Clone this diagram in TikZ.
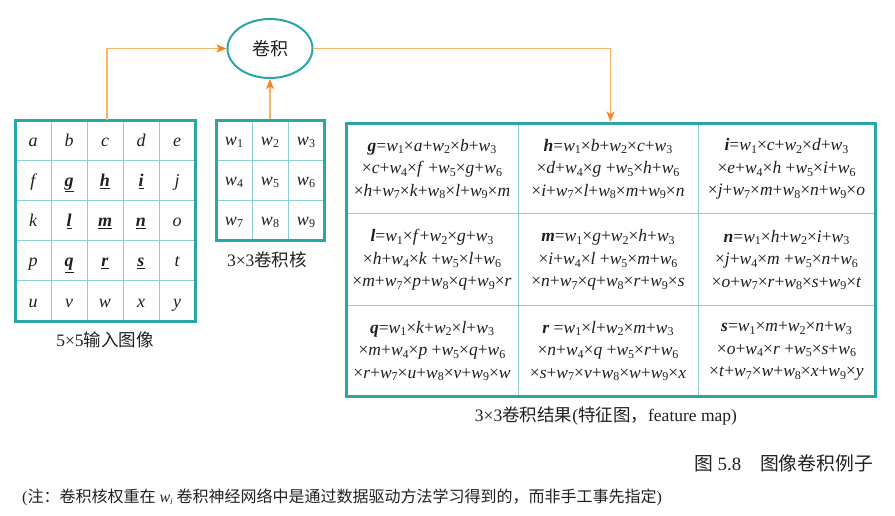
\documentclass[tikz,border=0pt]{standalone}
\usepackage{fontspec}
\setmainfont{Liberation Serif}
\newfontfamily\cjk{Noto Sans CJK SC}
\usetikzlibrary{arrows.meta,shapes.geometric}
\definecolor{tealA}{HTML}{2AA6A6}
\definecolor{tealB}{HTML}{8DD0D0}
\definecolor{orgL}{HTML}{FBB26A}
\definecolor{orgD}{HTML}{F5841C}
\definecolor{ink}{HTML}{231F20}
\newcommand\sbs[1]{\raisebox{-0.35ex}{\fontsize{12}{12}\selectfont\upshape #1}}
\newcommand\wk[1]{\textit{w}\sbs{#1}}
\newcommand\bu[1]{\underline{\textbf{\textit{#1}}}}
\newcommand\bv[1]{\textbf{\textit{#1}}}
\newcommand\xx{\texttimes}
\tikzset{
  gridbox/.style={draw=tealA, line width=3pt, inner sep=0pt},
  inner/.style={draw=tealB, line width=1pt},
  cell/.style={text=ink, font=\fontsize{18}{18}\selectfont\itshape, inner sep=0pt, anchor=base},
  ocell/.style={text=ink, align=center, font=\fontsize{17.5}{22.5}\selectfont, inner sep=0pt},
  lbl/.style={text=ink, inner sep=0pt},
  arr/.style={draw=orgL, line width=1.4pt, -{Stealth[length=10pt,width=8pt,inset=2.5pt,color=orgD]}},
}
\begin{document}
\begin{tikzpicture}[x=1pt,y=-1pt]
\useasboundingbox (0,0) rectangle (895,515);
% ellipse
\node[draw=tealA, line width=2pt, ellipse, minimum width=85pt, minimum height=59pt, inner sep=0pt, text=ink, font=\fontsize{18}{18}\selectfont\cjk] (conv) at (270,48.5) {卷积};
% input grid
\foreach \x in {51,87,123,159} \draw[inner] (\x,120) -- (\x,321);
\foreach \y in {160.2,200.4,240.6,280.8} \draw[inner] (15,\y) -- (195,\y);
\node[gridbox, minimum width=180pt, minimum height=201pt] (inputb) at (105,220.5) {};
\coordinate (instart) at (107,120);
\foreach \t [count=\i from 0] in {a,b,c,d,e} \node[cell] (in0\i) at (33+36*\i,146) {\t};
\node[cell] (in10) at (33,186.4) {f};
\node[cell] (in11) at (69,186.4) {\bu{g}};
\node[cell] (in12) at (105,186.4) {\bu{h}};
\node[cell] (in13) at (141,186.4) {\bu{i}};
\node[cell] (in14) at (177,186.4) {j};
\node[cell] (in20) at (33,226.5) {k};
\node[cell] (in21) at (69,226.5) {\bu{l}};
\node[cell] (in22) at (105,226.5) {\bu{m}};
\node[cell] (in23) at (141,226.5) {\bu{n}};
\node[cell] (in24) at (177,226.5) {o};
\node[cell] (in30) at (33,266.7) {p};
\node[cell] (in31) at (69,266.7) {\bu{q}};
\node[cell] (in32) at (105,266.7) {\bu{r}};
\node[cell] (in33) at (141,266.7) {\bu{s}};
\node[cell] (in34) at (177,266.7) {t};
\foreach \t [count=\i from 0] in {u,v,w,x,y} \node[cell] (in4\i) at (33+36*\i,307) {\t};
\node[lbl, font=\fontsize{17.5}{17.5}\selectfont] (inlbl) at (105,340) {5\xx5{\cjk 输入图像}};
% kernel
\foreach \x in {252,288} \draw[inner] (\x,120) -- (\x,240);
\foreach \y in {160,200} \draw[inner] (216,\y) -- (324,\y);
\node[gridbox, minimum width=108pt, minimum height=120pt] (kernelb) at (270,180) {};
\foreach \r in {0,1,2}{
  \foreach \c in {0,1,2}{
    \pgfmathtruncatemacro\n{3*\r+\c+1}
    \node[cell] (k\r\c) at (234+36*\c,145+40*\r) {\wk{\n}};
  }
}
\node[lbl, font=\fontsize{17.5}{17.5}\selectfont] (klbl) at (267,260) {3\xx3{\cjk 卷积核}};
% output grid
\foreach \x in {518,698} \draw[inner] (\x,123) -- (\x,396);
\foreach \y in {213,305} \draw[inner] (346,\y) -- (875,\y);
\node[gridbox, minimum width=529pt, minimum height=273pt] (outputb) at (610.5,259.5) {};
\node[ocell] (o00) at (432,169) {\bv{g}=\wk1\xx\textit{a}+\wk2\xx\textit{b}+\wk3\\\xx\textit{c}+\wk4\xx\textit{f} +\wk5\xx\textit{g}+\wk6\\\xx\textit{h}+\wk7\xx\textit{k}+\wk8\xx\textit{l}+\wk9\xx\textit{m}};
\node[ocell] (o01) at (608,169) {\bv{h}=\wk1\xx\textit{b}+\wk2\xx\textit{c}+\wk3\\\xx\textit{d}+\wk4\xx\textit{g} +\wk5\xx\textit{h}+\wk6\\\xx\textit{i}+\wk7\xx\textit{l}+\wk8\xx\textit{m}+\wk9\xx\textit{n}};
\node[ocell] (o02) at (786.5,169) {\bv{i}=\wk1\xx\textit{c}+\wk2\xx\textit{d}+\wk3\\\xx\textit{e}+\wk4\xx\textit{h} +\wk5\xx\textit{i}+\wk6\\\xx\textit{j}+\wk7\xx\textit{m}+\wk8\xx\textit{n}+\wk9\xx\textit{o}};
\node[ocell] (o10) at (432,260) {\bv{l}=\wk1\xx\textit{f}+\wk2\xx\textit{g}+\wk3\\\xx\textit{h}+\wk4\xx\textit{k} +\wk5\xx\textit{l}+\wk6\\\xx\textit{m}+\wk7\xx\textit{p}+\wk8\xx\textit{q}+\wk9\xx\textit{r}};
\node[ocell] (o11) at (608,260) {\bv{m}=\wk1\xx\textit{g}+\wk2\xx\textit{h}+\wk3\\\xx\textit{i}+\wk4\xx\textit{l} +\wk5\xx\textit{m}+\wk6\\\xx\textit{n}+\wk7\xx\textit{q}+\wk8\xx\textit{r}+\wk9\xx\textit{s}};
\node[ocell] (o12) at (786.5,260) {\bv{n}=\wk1\xx\textit{h}+\wk2\xx\textit{i}+\wk3\\\xx\textit{j}+\wk4\xx\textit{m} +\wk5\xx\textit{n}+\wk6\\\xx\textit{o}+\wk7\xx\textit{r}+\wk8\xx\textit{s}+\wk9\xx\textit{t}};
\node[ocell] (o20) at (432,351) {\bv{q}=\wk1\xx\textit{k}+\wk2\xx\textit{l}+\wk3\\\xx\textit{m}+\wk4\xx\textit{p} +\wk5\xx\textit{q}+\wk6\\\xx\textit{r}+\wk7\xx\textit{u}+\wk8\xx\textit{v}+\wk9\xx\textit{w}};
\node[ocell] (o21) at (608,351) {\bv{r} =\wk1\xx\textit{l}+\wk2\xx\textit{m}+\wk3\\\xx\textit{n}+\wk4\xx\textit{q} +\wk5\xx\textit{r}+\wk6\\\xx\textit{s}+\wk7\xx\textit{v}+\wk8\xx\textit{w}+\wk9\xx\textit{x}};
\node[ocell] (o22) at (786.5,351) {\bv{s}=\wk1\xx\textit{m}+\wk2\xx\textit{n}+\wk3\\\xx\textit{o}+\wk4\xx\textit{r} +\wk5\xx\textit{s}+\wk6\\\xx\textit{t}+\wk7\xx\textit{w}+\wk8\xx\textit{x}+\wk9\xx\textit{y}};
\node[lbl, font=\fontsize{17.5}{17.5}\selectfont] (olbl) at (606,416) {3\xx3{\cjk 卷积结果}({\cjk 特征图，}feature map)};
% captions
\node[lbl, font=\fontsize{18.8}{18.8}\selectfont, anchor=east] (cap) at (873,463) {{\cjk 图} 5.8\quad{\cjk 图像卷积例子}};
\node[lbl, font=\fontsize{16}{16}\selectfont, anchor=west] (note) at (22,497) {({\cjk 注：卷积核权重在} \textit{w}\raisebox{-0.35ex}{\fontsize{9}{9}\selectfont\textit{i}} {\cjk 卷积神经网络中是通过数据驱动方法学习得到的，而非手工事先指定})};
% connectors
\draw[arr] (instart) |- (conv.west);
\draw[arr] (kernelb.north) -- (conv.south);
\draw[arr] (conv.east) -| (outputb.north);
\end{tikzpicture}
\end{document}
